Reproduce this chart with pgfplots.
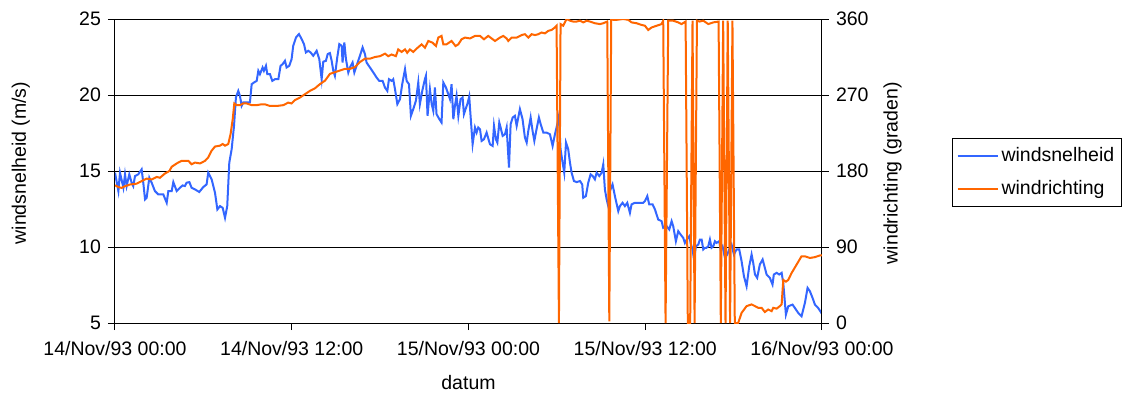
\documentclass[border=0pt]{standalone}
\usepackage{fontspec}
\setmainfont{Liberation Sans}
\usepackage{pgfplots}
\pgfplotsset{compat=1.18}
\definecolor{wsblue}{RGB}{51,102,255}
\definecolor{wrorange}{RGB}{255,102,0}

\pgfplotstableread{
t v
0 14.89
0.23 13.68
0.34 14.89
0.57 13.90
0.68 14.78
0.79 14.01
0.97 14.78
1.13 14.23
1.24 14.01
1.36 14.67
1.58 14.78
1.81 15.11
1.92 14.23
2.04 13.13
2.15 13.24
2.33 14.56
2.49 14.23
2.71 13.68
2.94 13.46
3.28 13.46
3.51 12.91
3.62 13.68
3.85 13.68
3.96 14.27
4.19 13.68
4.41 13.90
4.59 14.05
4.75 14.01
4.86 14.23
5.05 14.27
5.20 13.90
5.43 13.79
5.72 13.62
6.00 13.95
6.22 14.12
6.33 14.89
6.56 14.45
6.79 13.57
6.95 12.47
7.13 12.69
7.31 12.58
7.47 11.92
7.62 12.69
7.76 15.55
7.92 16.43
8.08 17.97
8.21 19.84
8.37 20.27
8.48 19.95
8.60 19.29
8.71 19.51
8.94 19.51
9.16 19.51
9.28 20.71
9.43 20.82
9.62 20.93
9.73 21.59
9.84 21.37
10.02 21.81
10.11 21.59
10.25 21.92
10.34 21.37
10.52 21.37
10.68 20.93
10.86 21.04
11.09 21.04
11.24 21.92
11.38 22.03
11.54 22.25
11.65 21.81
11.83 21.92
11.99 22.36
12.10 23.24
12.29 23.79
12.49 24.01
12.67 23.68
12.83 23.35
12.96 22.80
13.12 22.91
13.28 22.80
13.46 22.58
13.69 22.91
13.87 22.36
14.03 21.04
14.14 22.19
14.32 22.25
14.44 22.69
14.59 22.76
14.71 22.25
14.82 21.59
14.93 21.26
15.09 22.47
15.23 23.35
15.39 23.24
15.45 22.14
15.57 23.46
15.68 22.36
15.84 21.48
15.95 21.81
16.13 22.14
16.25 21.48
16.40 21.92
16.63 22.58
16.81 23.13
16.97 22.69
17.08 22.14
17.31 21.81
17.54 21.48
17.76 21.15
17.94 20.93
18.17 20.93
18.33 20.49
18.49 20.27
18.60 21.04
18.78 20.93
18.89 21.04
19.01 20.38
19.17 19.40
19.35 19.73
19.50 20.71
19.69 21.70
19.80 20.93
19.96 20.71
20.09 18.63
20.25 19.07
20.43 19.62
20.59 20.82
20.70 19.40
20.86 20.27
21.04 21.04
21.11 21.26
21.22 18.63
21.38 20.38
21.50 19.40
21.61 18.96
21.72 20.49
21.83 18.74
22.02 18.41
22.17 18.19
22.29 20.82
22.47 20.49
22.63 20.05
22.74 19.73
22.85 20.71
22.97 18.41
23.08 19.29
23.19 19.95
23.31 18.63
23.46 19.73
23.60 19.84
23.69 18.74
23.80 19.07
23.92 19.40
24.05 19.90
24.14 18.63
24.28 16.76
24.44 17.86
24.55 17.53
24.66 17.86
24.78 17.75
24.89 16.98
25.05 17.09
25.23 17.53
25.39 16.98
25.46 16.76
25.64 16.65
25.73 17.97
25.86 17.09
25.96 16.87
26.09 18.19
26.18 17.86
26.32 17.31
26.48 17.42
26.59 17.86
26.75 15.22
26.86 18.08
27.00 18.52
27.15 18.63
27.27 17.97
27.38 18.52
27.49 19.07
27.67 18.41
27.83 17.20
27.95 16.87
28.06 17.64
28.22 18.52
28.35 17.64
28.47 16.98
28.62 17.75
28.78 18.52
28.90 18.08
29.08 17.53
29.30 17.53
29.53 17.42
29.71 16.65
29.87 17.42
30.03 18.08
30.14 18.63
30.25 16.43
30.39 15.55
30.50 14.89
30.62 16.87
30.77 16.43
30.89 15.55
31.00 14.89
31.16 14.34
31.34 14.27
31.57 14.34
31.72 14.12
31.79 13.24
31.97 13.35
32.13 14.23
32.29 14.78
32.43 14.67
32.58 14.45
32.70 14.89
32.88 14.67
33.04 14.89
33.15 15.44
33.26 13.79
33.38 13.13
33.49 12.69
33.60 13.68
33.78 14.12
33.94 13.35
34.17 12.36
34.28 12.69
34.46 12.91
34.62 12.69
34.78 12.91
34.96 12.25
35.07 12.80
35.30 12.91
35.64 12.91
35.86 12.91
35.98 13.02
36.14 13.35
36.27 12.80
36.50 12.80
36.66 12.47
36.88 11.81
37.11 11.70
37.22 11.26
37.45 11.37
37.63 11.15
37.79 11.70
37.90 11.37
38.08 10.38
38.24 11.04
38.40 10.82
38.58 10.60
38.69 10.27
38.81 10.49
38.99 10.71
39.08 10.27
39.21 9.84
39.31 9.18
39.44 10.05
39.60 10.16
39.71 10.49
39.83 10.49
39.94 9.84
40.05 9.95
40.16 9.95
40.28 10.05
40.39 10.49
40.50 9.95
40.62 10.05
40.73 10.38
40.84 10.27
41.02 10.38
41.12 9.84
41.25 10.05
41.41 9.29
41.57 9.51
41.70 9.84
41.86 10.16
42.02 9.51
42.20 9.84
42.38 9.84
42.54 9.07
42.70 8.08
42.88 7.42
43.06 8.74
43.22 9.51
43.33 8.96
43.45 8.19
43.60 7.97
43.78 8.85
43.97 9.18
44.12 8.63
44.24 8.19
44.35 8.08
44.46 7.97
44.64 7.53
44.73 8.19
44.92 8.30
45.10 8.19
45.26 8.30
45.37 7.64
45.55 5.55
45.71 6.10
46.00 6.21
46.16 5.99
46.39 5.66
46.61 5.44
46.84 6.32
47.02 7.31
47.18 7.09
47.36 6.65
47.52 6.21
47.74 5.99
48.00 5.60
}\speedtable

\pgfplotstableread{
t d
0 163
0.23 161
0.45 160
0.68 162
1.02 164
1.47 165
1.81 168
2.15 171
2.49 170
2.83 173
3.05 172
3.39 177
3.69 180
3.85 185
4.19 189
4.52 192
4.98 192
5.20 188
5.43 190
5.77 189
6.11 192
6.33 196
6.56 204
6.79 209
7.13 210
7.31 212
7.47 210
7.69 212
7.85 224
7.99 241
8.10 260
8.26 258
8.48 258
8.71 260
8.94 260
9.28 258
9.62 258
9.95 259
10.18 259
10.52 257
10.97 257
11.43 258
11.76 261
11.99 260
12.22 264
12.56 267
12.90 271
13.24 275
13.58 278
13.92 283
14.26 287
14.59 295
14.93 297
15.27 299
15.61 301
15.95 301
16.29 303
16.63 309
16.97 313
17.31 313
17.65 315
17.99 316
18.33 319
18.55 316
18.78 318
19.07 316
19.23 324
19.46 321
19.69 324
19.84 320
20.02 324
20.25 321
20.48 325
20.82 330
21.04 326
21.27 334
21.56 332
21.79 328
21.95 338
22.17 340
22.29 330
22.51 330
22.85 334
23.12 328
23.31 330
23.53 336
23.76 338
24.10 337
24.44 340
24.78 340
25.05 336
25.34 340
25.80 334
26.14 338
26.36 340
26.59 337
26.70 334
26.93 338
27.27 338
27.61 341
27.83 342
28.06 338
28.29 342
28.51 341
28.74 342
28.96 344
29.19 343
29.42 346
29.64 347
29.87 350
29.98 352
30.14 0
30.25 354
30.43 352
30.66 360
30.89 358
31.11 357
31.34 357
31.57 358
31.79 356
32.02 358
32.24 357
32.58 355
32.92 354
33.15 355
33.42 357
33.56 2
33.69 360
33.83 359
34.05 359
34.51 360
34.85 359
35.07 356
35.41 355
35.75 353
35.98 352
36.20 347
36.43 350
36.77 352
37.11 354
37.22 358
37.38 0
37.56 358
37.90 358
38.24 356
38.47 354
38.74 357
38.89 0
39.05 0
39.21 358
39.35 0
39.51 358
39.67 357
39.94 358
40.28 354
40.62 356
40.98 357
41.13 0
41.29 358
41.45 0
41.60 358
41.76 0
41.92 358
42.08 0
42.31 0
42.54 12
42.88 20
43.22 22
43.45 20
43.67 18
43.90 18
44.12 13
44.35 16
44.58 14
44.69 18
44.92 17
45.14 20
45.26 22
45.37 51
45.55 49
45.71 51
45.93 59
46.27 69
46.61 79
46.84 79
47.18 77
47.52 78
47.86 80
48.00 80
}\dirtable

\begin{document}
\begin{tikzpicture}
\path[use as bounding box] (-57.5pt,-37.5pt) rectangle (513pt,161.5pt);
\pgfplotsset{
  every axis/.append style={
    scale only axis, width=353.5pt, height=152pt,
    xmin=0, xmax=48,
    font=\fontsize{9.75}{11.7}\selectfont,
    /pgf/number format/assume math mode=true,
    tick align=outside, major tick length=3.5pt,
    axis line style={black, line width=0.5pt},
    every tick/.style={black, line width=0.5pt},
  }
}
\begin{axis}[
  ymin=5, ymax=25, ytick={5,10,15,20,25},
  xtick={0,12,24,36,48},
  xticklabels={14/Nov/93 00:00, 14/Nov/93 12:00, 15/Nov/93 00:00, 15/Nov/93 12:00, 16/Nov/93 00:00},
  xtick pos=left, ytick pos=left,
  ymajorgrids, major grid style={black, line width=0.5pt},
  xlabel={datum}, ylabel={windsnelheid (m/s)},
  xlabel style={at={(axis description cs:0.5,-0.197)}, anchor=center},
  ylabel style={at={(axis description cs:-0.1333,0.526)}, anchor=center},
  xticklabel style={yshift=-2pt},
]
\addplot[wsblue, line width=1pt] table[x=t, y=v] {\speedtable};
\end{axis}
\begin{axis}[
  ymin=0, ymax=360, ytick={0,90,180,270,360},
  axis x line=none, axis y line*=right,
  ylabel={windrichting (graden)},
  ylabel style={at={(axis description cs:1.0997,0.493)}, anchor=center},
  legend image code/.code={\draw[#1] (0pt,0pt) -- (20pt,0pt);},
  legend cell align=left,
  legend style={at={(1.1839,0.6086)}, anchor=north west, draw=black, line width=0.5pt,
    inner xsep=2pt, inner ysep=3pt, row sep=5pt, nodes={inner sep=1.5pt},
    font=\fontsize{9.75}{11.7}\selectfont},
]
\addlegendimage{wsblue, line width=1pt}
\addlegendentry{windsnelheid\hspace{8pt}}
\addplot[wrorange, line width=1pt] table[x=t, y=d] {\dirtable};
\addlegendentry{windrichting}
\end{axis}
\end{tikzpicture}
\end{document}
